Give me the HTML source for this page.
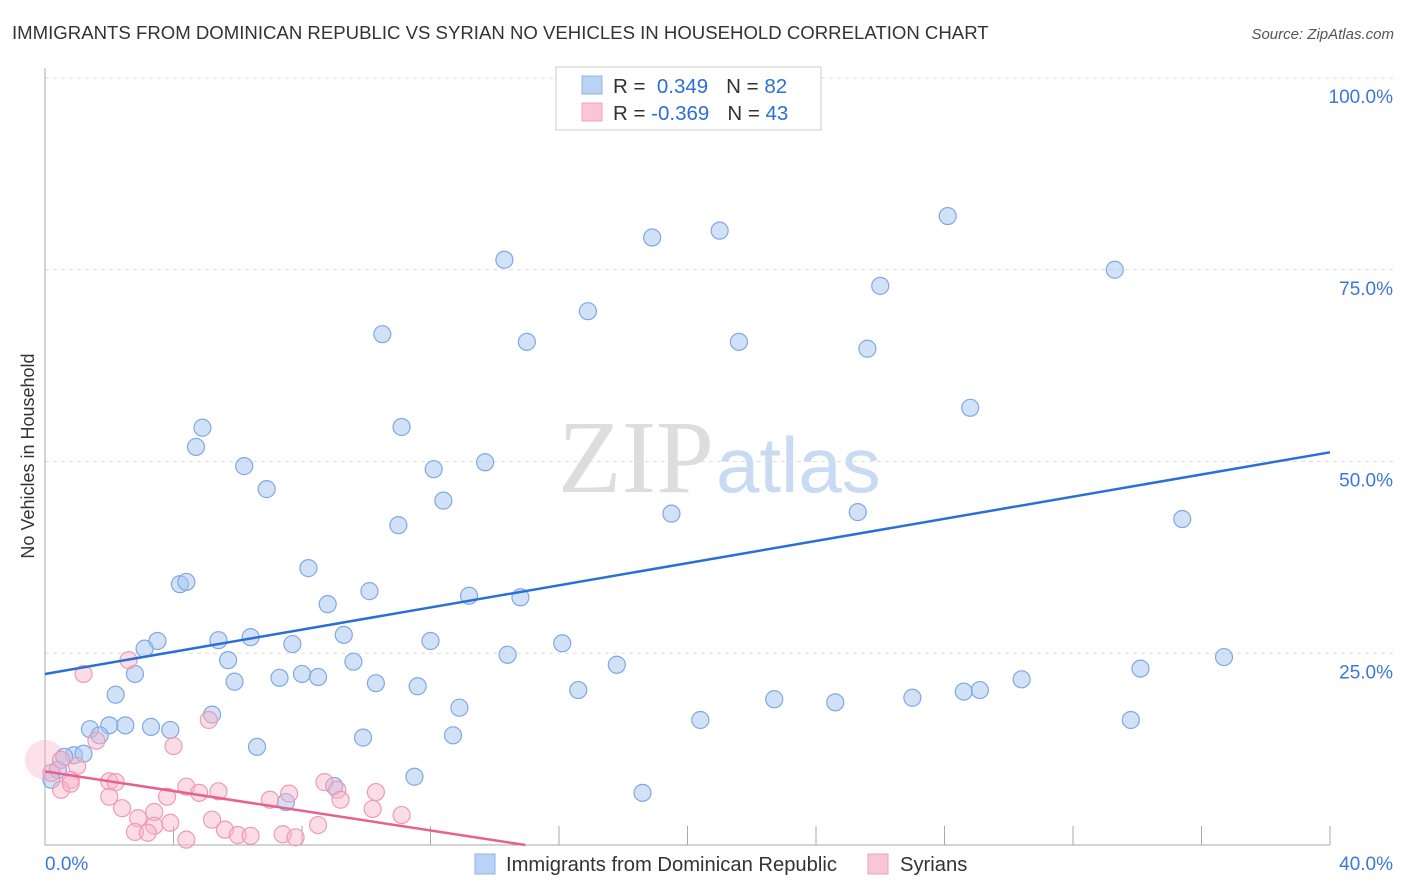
<!DOCTYPE html>
<html><head><meta charset="utf-8"><style>
body{margin:0;background:#fff;width:1406px;height:892px;overflow:hidden;font-family:"Liberation Sans",sans-serif;}
svg{position:absolute;left:0;top:0}
</style></head><body>
<svg id="c" width="1406" height="892">
<text x="12" y="39" font-size="18.6" fill="#333">IMMIGRANTS FROM DOMINICAN REPUBLIC VS SYRIAN NO VEHICLES IN HOUSEHOLD CORRELATION CHART</text>
<text x="1394" y="39" font-size="15" fill="#555" font-style="italic" text-anchor="end">Source: ZipAtlas.com</text>
<text x="714" y="492" font-size="104" fill="#ddd" text-anchor="end" font-family="Liberation Serif">ZIP</text>
<text x="716" y="492" font-size="78" fill="#c9dbf2">atlas</text>
<text transform="translate(34,456) rotate(-90)" font-size="18" fill="#333" text-anchor="middle">No Vehicles in Household</text>
<g id="grid"></g><g id="pts"></g><g id="lines"></g>
<g>
<rect x="556" y="67" width="265" height="63" fill="#fff" stroke="#ccc"/>
<rect x="582" y="76" width="20" height="18" fill="#b9d3f5" stroke="#8fb4e6"/>
<rect x="582" y="103" width="20" height="18" fill="#f9c6d6" stroke="#f0a0bc"/>
<text x="613" y="93" font-size="20.5" fill="#333">R = <tspan fill="#2b6fd6">&#160;0.349</tspan><tspan dx="18">N = </tspan><tspan fill="#2b6fd6">82</tspan></text>
<text x="613" y="120" font-size="20.5" fill="#333">R = <tspan fill="#2b6fd6">-0.369</tspan><tspan dx="18">N = </tspan><tspan fill="#2b6fd6">43</tspan></text>
</g>
<g>
<rect x="475" y="854" width="20" height="20" fill="#b9d3f5" stroke="#8fb4e6"/>
<text x="506" y="871" font-size="20.2" fill="#333">Immigrants from Dominican Republic</text>
<rect x="868" y="854" width="20" height="20" fill="#f9c6d6" stroke="#f0a0bc"/>
<text x="900" y="871" font-size="20.2" fill="#333">Syrians</text>
</g>
</svg>
<script>
const xTicks=[0,4,8,12,16,20,24,28,32,36,40];
const yTicks=[25,50,75,100];
const blueX=[14.3,18.9,21.0,28.1,33.3,26.0,16.9,10.5,15.0,21.6,25.6,28.8,4.9,11.1,4.7,6.2,12.1,13.7,6.9,12.4,11.0,19.5,25.3,35.4,8.2,4.2,4.4,10.1,13.2,8.8,14.8,3.5,3.1,5.4,6.4,7.7,9.3,12.0,16.1,5.7,9.6,14.4,17.8,36.7,2.8,5.9,7.3,8.0,8.5,10.3,11.6,16.6,34.1,2.2,22.7,24.6,27.0,28.6,29.1,30.4,12.9,5.2,20.4,33.8,1.4,2.0,2.5,3.3,3.9,1.7,9.9,12.7,6.6,0.9,1.2,0.6,0.4,0.2,11.5,9.0,7.5,18.6];
const blueY=[76.3,79.2,80.1,82.0,75.0,72.9,69.6,66.6,65.6,65.6,64.7,57.0,54.4,54.5,51.9,49.4,49.0,49.9,46.4,44.9,41.7,43.2,43.4,42.5,36.1,34.0,34.3,33.1,32.5,31.4,32.3,26.6,25.6,26.7,27.1,26.2,27.4,26.6,26.3,24.1,23.9,24.8,23.5,24.5,22.3,21.3,21.8,22.3,21.9,21.1,20.7,20.2,23.0,19.6,19.0,18.6,19.2,20.0,20.2,21.6,17.9,17.0,16.3,16.3,15.1,15.6,15.6,15.4,15.0,14.3,14.0,14.3,12.8,11.7,11.9,11.5,9.8,8.5,8.9,7.7,5.6,6.8];
const pinkX=[1.2,2.6,5.1,4.0,1.6,0.5,1.0,0.2,0.8,0.5,0.8,2.0,2.2,4.4,4.8,5.4,3.8,2.0,2.4,3.4,7.6,7.0,8.7,9.1,9.2,10.3,5.2,2.9,3.9,3.4,5.6,6.0,6.4,2.8,3.2,7.4,7.8,4.4,8.5,10.2,11.1,0];
const pinkY=[22.3,24.1,16.3,12.9,13.6,11.1,10.3,9.4,8.5,7.2,8.0,8.3,8.2,7.6,6.8,7.0,6.3,6.3,4.8,4.3,6.7,5.9,8.2,7.2,5.9,6.9,3.3,3.5,2.9,2.5,2.0,1.3,1.2,1.7,1.6,1.4,1.0,0.7,2.6,4.7,3.9,11.1];
const blueTrend=[22.3,51.2];
const pinkTrend=[9.6,0];const pinkEnd=14.95;
const X=v=>45+v*(1285/40), Y=v=>845-v*7.67;
const NS='http://www.w3.org/2000/svg';
function mk(t,a,p){const e=document.createElementNS(NS,t);for(const k in a)e.setAttribute(k,a[k]);p.appendChild(e);return e;}
const g=document.getElementById('grid');
yTicks.forEach(v=>{
 const l=mk('line',{x1:45,x2:1395,y1:Y(v),y2:Y(v),stroke:'#ddd','stroke-dasharray':'4,4'},g);
 
 
 const t=mk('text',{x:1393,y:Y(v)+25,'font-size':19,fill:'#3b78d8','text-anchor':'end'},g);t.textContent=v.toFixed(1)+'%';
 
 
});
mk('line',{x1:45,x2:45,y1:68,y2:845,stroke:'#aaa'},g);
mk('line',{x1:45,x2:1330,y1:845,y2:845,stroke:'#aaa'},g);
xTicks.forEach((v,i)=>{if(i>0){const l=mk('line',{x1:X(v),x2:X(v),y1:826,y2:845,stroke:'#aaa'},g);
 
 }});
[[0,'start',45],[40,'end',1393]].forEach(([v,a,x])=>{const t=mk('text',{x:x,y:870,'font-size':19,fill:'#3b78d8','text-anchor':a},g);t.textContent=v.toFixed(1)+'%';
 
 });
const p=document.getElementById('pts');
const big1=mk('circle',{cx:X(0),cy:Y(11.1),r:20,fill:'rgba(246,170,195,0.35)',stroke:'none'},p);


blueX.forEach((x,i)=>{const c=mk('circle',{cx:X(x),cy:Y(blueY[i]),r:8.5,fill:'rgba(164,198,242,0.5)',stroke:'#7fa9e2','stroke-width':1.2},p);
 
 });
pinkX.forEach((x,i)=>{if(i===pinkX.length-1)return;const c=mk('circle',{cx:X(x),cy:Y(pinkY[i]),r:8.5,fill:'rgba(248,180,200,0.45)',stroke:'#ee9ab6','stroke-width':1.2},p);
 
 });
const L=document.getElementById('lines');
const b=mk('line',{x1:X(0),y1:Y(blueTrend[0]),x2:X(40),y2:Y(blueTrend[1]),stroke:'#2b6fd6','stroke-width':2.5},L);


const q=mk('line',{x1:X(0),y1:Y(pinkTrend[0]),x2:X(pinkEnd),y2:Y(pinkTrend[1]),stroke:'#e8608f','stroke-width':2.5},L);


</script>
</body></html>
